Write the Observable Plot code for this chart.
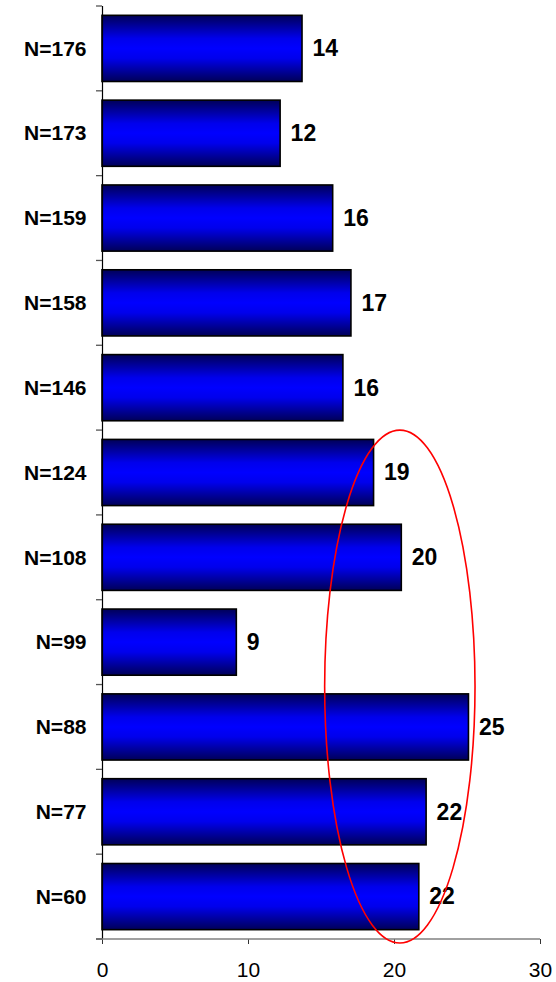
<!DOCTYPE html>
<html>
<head>
<meta charset="utf-8">
<script src="https://cdn.jsdelivr.net/npm/d3@7"></script>
<script src="https://cdn.jsdelivr.net/npm/@observablehq/plot@0.6"></script>
<style>
  html, body { margin: 0; padding: 0; background: #fff; }
  #chart { width: 556px; height: 982px; }
</style>
</head>
<body>
<div id="chart"></div>
<script>
const categories = ["N=176","N=173","N=159","N=158","N=146","N=124","N=108","N=99","N=88","N=77","N=60"];
const values = [13.7, 12.2, 15.8, 17.05, 16.5, 18.6, 20.5, 9.2, 25.1, 22.2, 21.7];
const valueLabels = ["14","12","16","17","16","19","20","9","25","22","22"];
const xTicks = [0, 10, 20, 30];

const data = categories.map((c, i) => ({cat: c, value: values[i], label: valueLabels[i]}));

const chart = Plot.plot({
  width: 556,
  height: 982,
  marginLeft: 102,
  marginRight: 16,
  marginTop: 6,
  marginBottom: 43,
  style: {fontFamily: "Liberation Sans, Arial, sans-serif", background: "#fff"},
  x: {domain: [0, 30]},
  y: {domain: categories, paddingInner: 0.22, paddingOuter: 0.11, round: false},
  marks: [
    Plot.barX(data, {x: "value", y: "cat", fill: "url(#barGrad)", stroke: "#000", strokeWidth: 1.6}),
    Plot.text(data, {x: "value", y: "cat", text: "label", dx: 10, textAnchor: "start",
      fontSize: 23, fontWeight: "bold", fill: "#000"}),
    Plot.axisY({tickSize: 0, tickPadding: 16, fontSize: 21, fontWeight: "bold", color: "#000", label: null}),
    Plot.axisX({ticks: xTicks, tickSize: 5, tickPadding: 18, fontSize: 21, color: "#000", label: null, stroke: "#333"}),
    Plot.ruleX([0], {stroke: "#000", strokeWidth: 1.2})
  ]
});

document.getElementById("chart").appendChild(chart);

const svg = d3.select(chart);
const defs = svg.insert("defs", ":first-child");
const grad = defs.append("linearGradient").attr("id", "barGrad")
  .attr("x1", 0).attr("y1", 0).attr("x2", 0).attr("y2", 1);
grad.append("stop").attr("offset", "0%").attr("stop-color", "#000058");
grad.append("stop").attr("offset", "35%").attr("stop-color", "#0000ec");
grad.append("stop").attr("offset", "50%").attr("stop-color", "#0000ff");
grad.append("stop").attr("offset", "65%").attr("stop-color", "#0000ec");
grad.append("stop").attr("offset", "100%").attr("stop-color", "#000058");

const xs = chart.scale("x");
const ys = chart.scale("y");
const bw = ys.bandwidth;
const step = ys.step;
const x0 = xs.apply(0);
const x30 = xs.apply(30);
const yBottom = 982 - 43;

// x-axis baseline
svg.append("line").attr("x1", x0 - 6).attr("x2", x30).attr("y1", yBottom).attr("y2", yBottom)
  .attr("stroke", "#808080").attr("stroke-width", 1.3);

// y ticks at category boundaries
const bounds = categories.map(c => ys.apply(c) + bw / 2 - step / 2);
bounds.push(ys.apply(categories[categories.length - 1]) + bw / 2 + step / 2);
svg.append("g").selectAll("line").data(bounds).join("line")
  .attr("x1", x0 - 6).attr("x2", x0).attr("y1", d => d).attr("y2", d => d)
  .attr("stroke", "#555").attr("stroke-width", 1.3);

// red ellipse annotation
const eTop = ys.apply("N=124") + bw / 2 - step / 2;
const eBot = ys.apply("N=60") + bw / 2 + step / 2 + 4;
const cx = xs.apply(20.4);
const rx = xs.apply(20.4 + 5.15) - cx;
svg.append("ellipse").attr("cx", cx).attr("cy", (eTop + eBot) / 2)
  .attr("rx", rx).attr("ry", (eBot - eTop) / 2)
  .attr("fill", "none").attr("stroke", "#ff0000").attr("stroke-width", 1.6);
</script>
</body>
</html>
